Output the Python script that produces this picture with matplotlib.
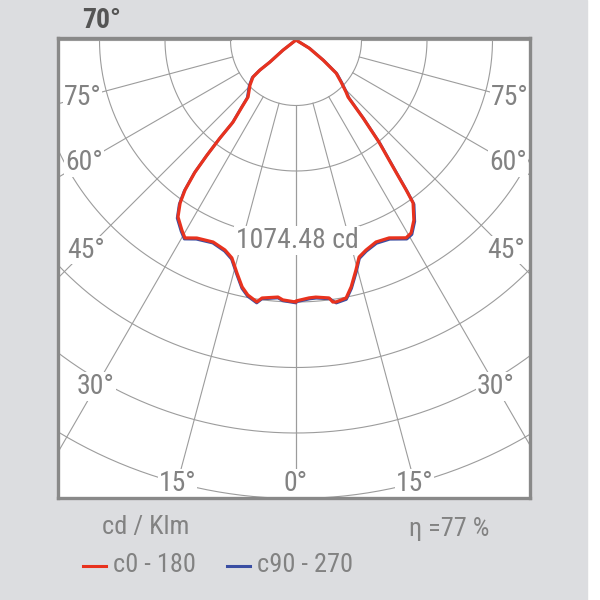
import numpy as np
import matplotlib.pyplot as plt
from matplotlib import font_manager as fm
from matplotlib.patches import Rectangle
from matplotlib.lines import Line2D

# luminous intensity, angle from nadir (deg) -> cd
c0_ang = [0, 2.9, 4.4, 7.3, 8.0, 8.7, 11.0, 12.6, 14.6, 16.2, 18.4, 21.6, 25.2,
          29.1, 30.8, 33.2, 35.7, 36.3, 37.1, 39.1, 40.7, 42.4, 43.9, 47.0,
          50.5, 53.5, 58.4, 90]
c0_val = [1427, 1412, 1410, 1422, 1447, 1449, 1437, 1383, 1300, 1236, 1211, 1188,
          1196, 1238, 1229, 1177, 1097, 1017, 906, 719, 562, 422, 394, 337,
          284, 184, 84, 0]
c180_ang = [0, 2.9, 4.0, 7.5, 8.5, 10.7, 12.3, 14.2, 16.4, 18.7, 22.3, 26.6,
            29.3, 31.0, 33.7, 35.4, 36.5, 37.4, 37.7, 37.8, 37.5, 38.9, 40.1,
            45.6, 49.3, 50.2, 49.8, 52.0, 90]
c180_val = [1433, 1423, 1409, 1423, 1448, 1419, 1382, 1315, 1242, 1212, 1194, 1211,
            1241, 1212, 1163, 1094, 1020, 909, 795, 678, 565, 471, 407,
            352, 310, 256, 186, 90, 0]

# C90-270 plane (almost identical, hidden under red)
c90_ang = [0, 3.0, 4.5, 7.5, 8.7, 11.0, 12.6, 14.6, 16.2, 18.4, 21.6, 25.2,
           29.1, 30.8, 33.2, 35.7, 36.3, 37.1, 39.1, 40.7, 42.4, 43.9, 47.0,
           50.5, 53.5, 58.4, 90]
c90_val = [1432, 1418, 1416, 1428, 1455, 1445, 1392, 1310, 1244, 1218, 1196,
           1204, 1246, 1238, 1186, 1106, 1027, 916, 728, 570, 430, 400, 343,
           290, 190, 88, 0]
c270_ang = [0, 2.9, 4.0, 7.5, 8.5, 10.7, 12.3, 14.2, 16.4, 18.7, 22.3, 26.6,
            29.3, 31.0, 33.7, 35.4, 36.5, 37.4, 37.7, 37.8, 37.5, 38.9, 40.1,
            45.6, 49.3, 50.2, 49.8, 52.0, 90]
c270_val = [1438, 1428, 1414, 1428, 1454, 1426, 1390, 1322, 1249, 1219, 1200,
            1218, 1248, 1220, 1171, 1102, 1028, 917, 803, 686, 572, 478, 414,
            358, 316, 262, 190, 92, 0]

ring_value = 1074.48
ring_index = 3
grid_angles = [0, 15, 30, 45, 60, 75, 90]
label_angles = [0, 15, 30, 45, 60, 75]
label_r_px = [443, 459, 400, 297, 245, 221]

RED = '#e8321e'
BLUE = '#3a4ea3'
GRID = '#9c9c9c'
TXT = '#828282'

# pick a narrow face if one is installed
names = {f.name for f in fm.fontManager.ttflist}
dv_cond = any(f.name == 'DejaVu Sans' and 'Condensed' in f.fname
              for f in fm.fontManager.ttflist)
if 'Liberation Sans Narrow' in names:
    FONT, STRETCH, FS = ['Liberation Sans Narrow', 'DejaVu Sans'], 'normal', 20
elif 'Roboto Condensed' in names:
    FONT, STRETCH, FS = ['Roboto Condensed', 'DejaVu Sans'], 'normal', 20
elif dv_cond:
    FONT, STRETCH, FS = ['DejaVu Sans'], 'condensed', 17
else:
    FONT, STRETCH, FS = ['Roboto', 'DejaVu Sans'], 'normal', 17.5

# pixel geometry of the box and the polar center
cx, cy = 296, 40
box_l, box_r, box_t, box_b = 58, 530, 38, 498
ring_px = 65.5
step = ring_value / ring_index
k = step / ring_px


def to_xy(ang_right, val_right, ang_left, val_left):
    ar = np.radians(ang_right)
    al = np.radians(ang_left)[::-1]
    vr = np.array(val_right, float)
    vl = np.array(val_left, float)[::-1]
    x = np.concatenate([-vl * np.sin(al), vr * np.sin(ar)])
    y = np.concatenate([-vl * np.cos(al), -vr * np.cos(ar)])
    return x, y


def txt(x, y, s, **kw):
    kw.setdefault('fontsize', FS)
    kw.setdefault('color', TXT)
    fig.text(x / 600, 1 - y / 600, s, family=FONT, fontstretch=STRETCH, **kw)


fig = plt.figure(figsize=(6, 6), dpi=100)
fig.patch.set_facecolor('white')
fig.patches.append(Rectangle((0, 0), 587 / 600, 1, transform=fig.transFigure,
                             color='#dcdde0', zorder=-5))

ax = fig.add_axes([box_l / 600, 1 - box_b / 600,
                   (box_r - box_l) / 600, (box_b - box_t) / 600])
ax.set_zorder(2)
ax.set_facecolor('white')
ax.set_xlim((box_l - cx) * k, (box_r - cx) * k)
ax.set_ylim(-(box_b - cy) * k, (cy - box_t) * k)
ax.set_xticks([])
ax.set_yticks([])
for s in ax.spines.values():
    s.set_color('#898989')
    s.set_linewidth(2.4)
    s.set_zorder(10)

t = np.linspace(0, 2 * np.pi, 500)
for i in range(1, 10):
    r = i * step
    ax.plot(r * np.sin(t), r * np.cos(t), color=GRID, lw=0.8, zorder=1)

for a in grid_angles:
    ar = np.radians(a)
    for side in (-1, 1):
        ax.plot([side * step * np.sin(ar), side * 12 * step * np.sin(ar)],
                [-step * np.cos(ar), -12 * step * np.cos(ar)],
                color=GRID, lw=0.8, zorder=1)

for a, rp in zip(label_angles, label_r_px):
    ar = np.radians(a)
    sides = (1,) if a == 0 else (-1, 1)
    for side in sides:
        ax.text(side * rp * k * np.sin(ar), -rp * k * np.cos(ar), f'{a}°',
                ha='center', va='center', fontsize=FS, color=TXT, family=FONT,
                fontstretch=STRETCH, zorder=3, clip_on=True,
                bbox=dict(facecolor='white', edgecolor='none', pad=0.5))

ax.text(0.015 * step, -ring_value * 1.02, f'{ring_value:.2f} cd', ha='center',
        va='center', fontsize=FS, color=TXT, family=FONT, fontstretch=STRETCH,
        zorder=3, bbox=dict(facecolor='white', edgecolor='none', pad=1.0))

xb, yb = to_xy(c90_ang, c90_val, c270_ang, c270_val)
ax.plot(xb, yb, color=BLUE, lw=2.0, zorder=4, solid_joinstyle='round')
xr, yr = to_xy(c0_ang, c0_val, c180_ang, c180_val)
ax.plot(xr, yr, color=RED, lw=2.3, zorder=5, solid_joinstyle='round')

txt(82, 21, '70°', ha='left', va='center', fontweight='bold', color='#555555')
txt(146, 527, 'cd / Klm', ha='center', va='center', fontsize=FS - 1)
txt(449, 529, 'η =77 %', ha='center', va='center', fontsize=FS - 1)
fig.add_artist(Line2D([83 / 600, 106 / 600], [1 - 566 / 600] * 2, color=RED, lw=2.2))
fig.add_artist(Line2D([227 / 600, 250 / 600], [1 - 566 / 600] * 2, color=BLUE, lw=2.2))
txt(113, 565, 'c0 - 180', ha='left', va='center', fontsize=FS - 1)
txt(257, 565, 'c90 - 270', ha='left', va='center', fontsize=FS - 1)

fig.savefig('out.png', dpi=100, facecolor=fig.get_facecolor())
